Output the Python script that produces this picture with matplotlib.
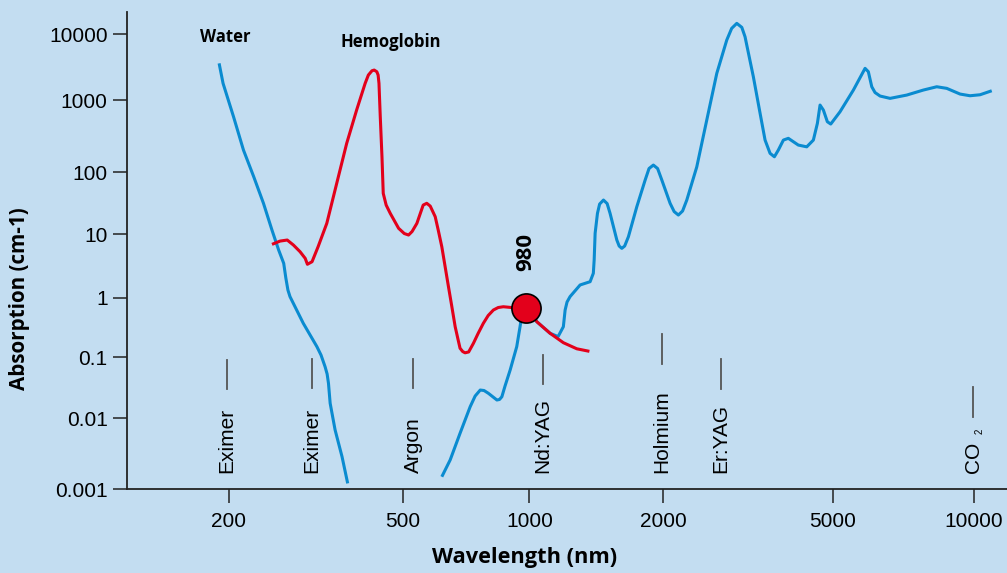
import numpy as np
import matplotlib
matplotlib.use('Agg')
import matplotlib.pyplot as plt
from matplotlib.transforms import blended_transform_factory

# absorption curves (nm, 1/cm)
water_uv_nm = [190, 194, 205, 216, 228, 240, 251, 260, 267, 270, 273, 276, 296, 318, 325,
               332, 335.6, 338, 341, 350, 363, 374]
water_uv_abs = [3620, 1795, 586, 202, 84, 31.5, 11.7, 5.65, 3.49, 2.05, 1.32, 1.04, 0.372,
                0.151, 0.109, 0.070, 0.0531, 0.0373, 0.0175, 0.0068, 0.00287, 0.00121]

water_ir_nm = [619, 648, 684, 723, 743, 764, 780, 799, 837, 849, 860, 875, 900, 933, 950,
               958, 995, 1039, 1113, 1160, 1192, 1203, 1215, 1234, 1300, 1369, 1392, 1398,
               1405, 1422, 1438, 1467, 1495, 1518, 1572, 1591, 1613, 1637, 1669, 1743, 1820,
               1857, 1899, 1941, 1984, 2074, 2120, 2169, 2219, 2270, 2396, 2529, 2670, 2818,
               2894, 2975, 3057, 3111, 3254, 3375, 3467, 3562, 3646, 3725, 3828, 3932, 4150,
               4344, 4502, 4601, 4668, 4753, 4856, 4946, 5182, 5533, 5859, 5954, 6055, 6153,
               6307, 6624, 7189, 7798, 8329, 8747, 9337, 9806, 10300, 10910]
water_ir_abs = [0.0015, 0.00258, 0.0061, 0.01535, 0.02304, 0.0289, 0.02838, 0.0255, 0.0198,
                0.0202, 0.0224, 0.0336, 0.0618, 0.151, 0.326, 0.48, 0.664, 0.396, 0.253,
                0.223, 0.326, 0.622, 0.847, 1.04, 1.59, 1.79, 2.43, 3.93, 10.4, 21.7, 30.6,
                35.5, 31.2, 21.7, 8.13, 6.54, 6.01, 6.54, 9.17, 27.7, 74.4, 112, 125, 112,
                74.4, 31.5, 23.2, 20.4, 23.7, 35.5, 118, 527, 2550, 8190, 12340, 14700,
                12780, 9190, 2265, 653, 278, 182, 163, 202, 278, 294, 237, 224, 278, 474,
                852, 726, 500, 464, 688, 1420, 3038, 2700, 1594, 1301, 1151, 1061, 1191,
                1420, 1594, 1507, 1234, 1163, 1204, 1385]

hb_nm = [251, 262, 272, 281, 291, 299, 302.5, 310, 320, 335, 353, 372, 392, 410, 417, 425,
         430, 436, 439, 441, 444, 448, 451, 458, 468, 489, 504, 516, 526, 540, 559, 570, 581,
         597, 607, 619, 642, 653, 666, 677, 684, 694, 703, 717, 736, 755, 777, 798, 821, 843,
         867, 916, 995, 1039, 1113, 1192, 1278, 1364]
hb_abs = [6.95, 7.83, 8.13, 6.78, 5.32, 4.18, 3.37, 3.70, 6.37, 15.0, 65.9, 250, 726, 1795,
          2402, 2793, 2861, 2700, 2402, 1795, 586, 163, 45.5, 29.5, 21.7, 12.5, 10.3, 9.75,
          11.1, 15.0, 29.5, 31.5, 28.4, 19.2, 11.7, 6.37, 1.49, 0.754, 0.326, 0.195, 0.142,
          0.125, 0.119, 0.123, 0.172, 0.251, 0.372, 0.503, 0.622, 0.685, 0.706, 0.680, 0.664,
          0.396, 0.253, 0.176, 0.139, 0.126]

diode_nm = 980
diode_abs = 0.66

laser_names = ['Eximer', 'Eximer', 'Argon', 'Nd:YAG', 'Holmium', 'Er:YAG', 'CO']
laser_nm = [198, 310, 529, 1074, 1987, 2733, 9950]
# marker stroke position above each label (axes fraction)
mark_top = [0.271, 0.273, 0.273, 0.281, 0.325, 0.273, 0.214]
mark_bot = [0.210, 0.212, 0.212, 0.221, 0.263, 0.210, 0.152]

x_ticks = [200, 500, 1000, 2000, 5000, 10000]
y_ticks = [0.001, 0.01, 0.1, 1, 10, 100, 1000, 10000]
y_labels = ['0.001', '0.01', '0.1', '1', '10', '100', '1000', '10000']

# the drawn axes are not quite logarithmic: anchor where each decade sits
x_anchor_nm = [100, 200, 500, 1000, 2000, 5000, 10000, 20000]
x_anchor_px = [97, 228.7, 402.7, 529.3, 663.3, 832.7, 974, 1115]
y_anchor_val = [1e-4, 1e-3, 1e-2, 1e-1, 1, 10, 100, 1000, 1e4, 1e5]
y_anchor_px = [-560.6, -489.3, -418, -357.3, -297.7, -234.3, -172, -100, -34.3, 31.4]


def make_scale(vals, pos):
    lv = np.log10(vals)

    def fwd(v):
        v = np.clip(np.asarray(v, dtype=float), 1e-12, None)
        return np.interp(np.log10(v), lv, pos)

    def inv(p):
        return 10 ** np.interp(np.asarray(p, dtype=float), pos, lv)

    return fwd, inv


BG = '#c3ddf1'
BLUE = '#0a8bd0'
RED = '#e3001b'

plt.rcParams['font.family'] = ['Liberation Sans', 'DejaVu Sans']
bold = {'family': ['Open Sans', 'DejaVu Sans'], 'weight': 'bold'}

fig = plt.figure(figsize=(10.07, 5.73), dpi=100, facecolor=BG)
ax = fig.add_axes([127 / 1007, 83.7 / 573, 880 / 1007, 477.3 / 573], facecolor=BG)

ax.set_xscale('function', functions=make_scale(x_anchor_nm, x_anchor_px))
ax.set_yscale('function', functions=make_scale(y_anchor_val, y_anchor_px))
ax.set_xlim(117, 11760)
ax.set_ylim(0.001, 21900)

line_kw = dict(lw=2.2, solid_capstyle='butt', solid_joinstyle='round')
ax.plot(water_uv_nm, water_uv_abs, color=BLUE, zorder=2, **line_kw)
ax.plot(water_ir_nm, water_ir_abs, color=BLUE, zorder=2, **line_kw)
ax.plot(hb_nm, hb_abs, color=RED, zorder=3, **line_kw)
ax.plot([diode_nm], [diode_abs], 'o', ms=21, mfc=RED, mec='black', mew=1.2, zorder=4)
ax.annotate(str(diode_nm), xy=(diode_nm, diode_abs), xytext=(0, 41),
            textcoords='offset points', rotation=90, ha='center', va='center',
            fontsize=16, **bold)

tr = blended_transform_factory(ax.transData, ax.transAxes)
for name, nm, top, bot in zip(laser_names, laser_nm, mark_top, mark_bot):
    ax.plot([nm, nm], [bot, top], color='#555555', lw=1.3, transform=tr)
    ax.text(nm, 0.034, name, rotation=90, ha='center', va='bottom', fontsize=15,
            transform=tr)
ax.annotate('2', xy=(laser_nm[-1], 0.034), xycoords=tr, xytext=(5, 28),
            textcoords='offset points', rotation=90, ha='center', va='bottom', fontsize=7)

ax.text(0.112, 0.947, 'Water', transform=ax.transAxes, ha='center', va='center',
        fontsize=12, **bold)
ax.text(0.300, 0.937, 'Hemoglobin', transform=ax.transAxes, ha='center', va='center',
        fontsize=12, **bold)

ax.set_xticks(x_ticks, [str(t) for t in x_ticks])
ax.set_yticks(y_ticks, y_labels)
ax.minorticks_off()
ax.tick_params(axis='both', direction='out', length=10, width=1.1, color='#222222',
               labelsize=15, pad=4)
ax.tick_params(axis='x', pad=6)

for side in ['top', 'right']:
    ax.spines[side].set_visible(False)
for side in ['left', 'bottom']:
    ax.spines[side].set_linewidth(1.3)
    ax.spines[side].set_color('#222222')

ax.set_xlabel('Wavelength (nm)', fontsize=15.7, va='center', **bold)
ax.xaxis.set_label_coords(0.4523, -0.142)
ax.set_ylabel('Absorption (cm-1)', fontsize=14.9, va='center', **bold)
ax.yaxis.set_label_coords(-0.1216, 0.399)

fig.savefig('out.png', dpi=100, facecolor=BG)
